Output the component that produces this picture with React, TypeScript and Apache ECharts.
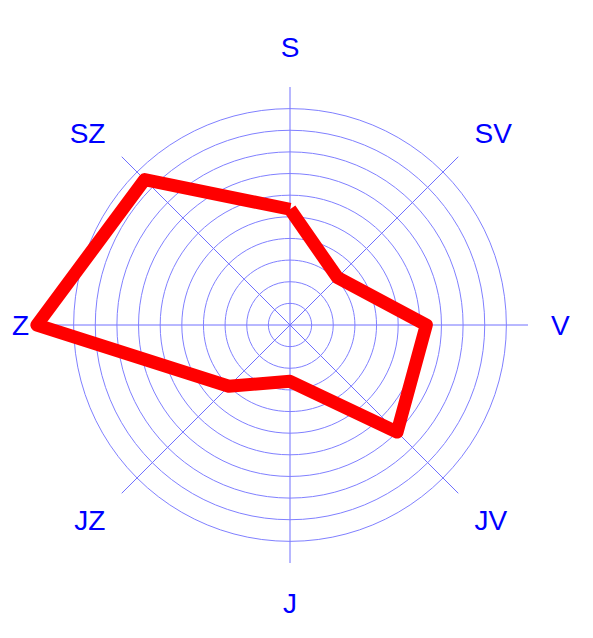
import React, { useEffect, useRef } from "react";
import * as echarts from "echarts";

// Wind directions (clockwise from north) and the measured values
const directions = ["S", "SV", "V", "JV", "J", "JZ", "Z", "SZ"];
const values = [5.35, 3.1, 6.3, 7.0, 2.6, 4.0, 11.7, 9.5];
// ECharts radar places indicators counter-clockwise; this is the drawing order
const drawOrder = [0, 7, 6, 5, 4, 3, 2, 1];
const axisMax = 11;
const ringCount = 10;

const labelStyleKey: Record<string, string> = {
  S: "top",
  SV: "upper",
  SZ: "upper",
  V: "side",
  Z: "side",
  JV: "lower",
  JZ: "lower",
  J: "bottom",
};

export default function App() {
  const ref = useRef<HTMLDivElement>(null);
  useEffect(() => {
    if (!ref.current) return;
    const chart = echarts.init(ref.current, undefined, { renderer: "svg" });
    const ringColors: string[] = [];
    for (let i = 0; i <= axisMax; i++) {
      ringColors.push(i <= ringCount ? "#8080ff" : "rgba(0,0,0,0)");
    }
    const base = {
      color: "#0000ff",
      fontSize: 28,
      fontFamily: "Liberation Sans, Arial, sans-serif",
    };
    const center = [290, 325];
    const radius = 238;
    chart.setOption({
      animation: false,
      backgroundColor: "#ffffff",
      polar: { center, radius },
      angleAxis: {
        type: "value",
        min: 0,
        max: 360,
        interval: 360 / directions.length,
        startAngle: 90,
        axisLine: { show: false },
        axisTick: { show: false },
        axisLabel: { show: false },
        splitLine: { show: true, lineStyle: { color: "#7070ff", width: 1 } },
      },
      radiusAxis: {
        min: 0,
        max: axisMax,
        axisLine: { show: false },
        axisTick: { show: false },
        axisLabel: { show: false },
        splitLine: { show: false },
      },
      radar: {
        center,
        radius,
        startAngle: 90,
        shape: "circle",
        splitNumber: axisMax,
        nameGap: 23,
        indicator: drawOrder.map((i) => ({ name: directions[i], min: 0, max: axisMax })),
        axisName: {
          ...base,
          formatter: (name: string) => `{${labelStyleKey[name]}|${name}}`,
          rich: {
            top: { ...base, padding: [0, 0, 3, 0] },
            upper: { ...base, padding: [0, 0, 14, 0] },
            side: { ...base },
            lower: { ...base, padding: [22, 0, 0, 0] },
            bottom: { ...base, padding: [3, 0, 0, 0] },
          },
        },
        axisLine: { show: false },
        axisTick: { show: false },
        axisLabel: { show: false },
        splitLine: { show: true, lineStyle: { color: ringColors, width: 1 } },
        splitArea: { show: false },
      },
      series: [
        {
          type: "radar",
          symbol: "none",
          lineStyle: { color: "#ff0000", width: 13 },
          data: [{ value: drawOrder.map((i) => values[i]) }],
        },
      ],
    });
    return () => chart.dispose();
  }, []);
  return (
    <div
      ref={ref}
      style={{ position: "absolute", left: 0, top: 0, width: 593, height: 638 }}
    />
  );
}
